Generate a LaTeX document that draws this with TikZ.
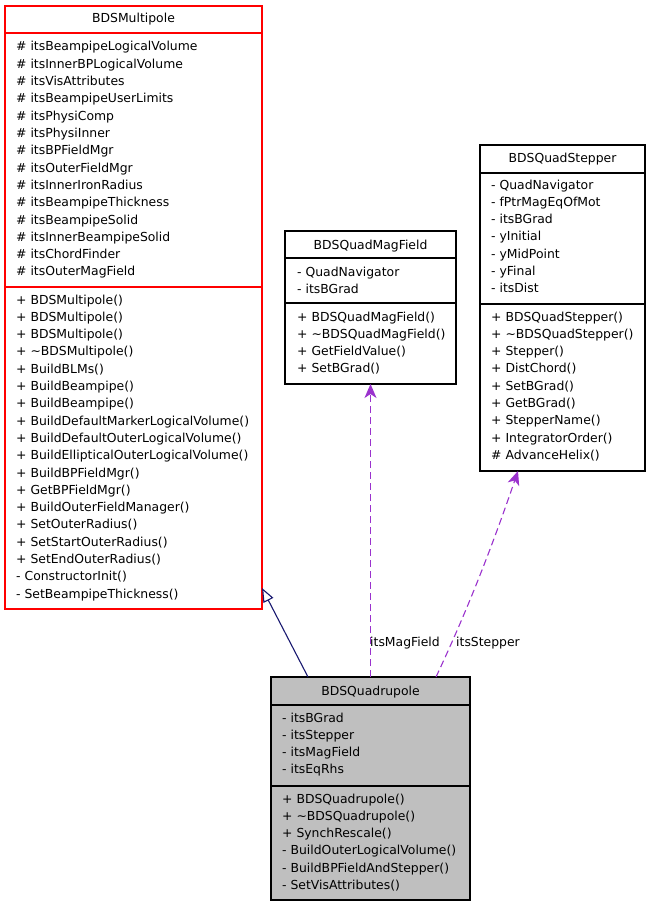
\documentclass[tikz,border=0pt]{standalone}
\usepackage{fontspec}
\setmainfont{DejaVu Sans}
\usetikzlibrary{arrows.meta,calc}
\definecolor{edgeinh}{HTML}{191970}
\definecolor{edgeuse}{HTML}{9A32CD}
\definecolor{boxred}{HTML}{FF0000}
\definecolor{boxgray}{HTML}{BFBFBF}
\begin{document}
\begin{tikzpicture}[x=1pt,y=-1pt, font=\fontsize{12.4}{14}\selectfont,
 cls/.style={draw=black, line width=1.2pt, inner sep=0pt, outer sep=0pt, anchor=north west},
 divline/.style={line width=1.2pt},
 txt/.style={anchor=base west, inner sep=0pt},
 ttl/.style={anchor=base, inner sep=0pt},
 inhedge/.style={draw=edgeinh, line width=1.1pt, -{Triangle[open,length=14pt,width=11pt,fill=white]}},
 useedge/.style={draw=edgeuse, line width=1.1pt, dash pattern=on 7pt off 4pt, -{Stealth[length=14pt,width=12pt,inset=4pt]}}]
\path[use as bounding box] (0,0) rectangle (651,907);

% ---------- BDSMultipole ----------
\node[cls, draw=boxred, minimum width=257pt, minimum height=603pt] (mp) at (5,6) {};
\draw[divline, boxred] (mp.west |- 0,33) -- (mp.east |- 0,33);
\draw[divline, boxred] (mp.west |- 0,287) -- (mp.east |- 0,287);
\node[ttl] (mpT) at (133.5,23) {BDSMultipole};
\foreach \t [count=\i from 0] in {\# itsBeampipeLogicalVolume,\# itsInnerBPLogicalVolume,\# itsVisAttributes,\# itsBeampipeUserLimits,\# itsPhysiComp,\# itsPhysiInner,\# itsBPFieldMgr,\# itsOuterFieldMgr,\# itsInnerIronRadius,\# itsBeampipeThickness,\# itsBeampipeSolid,\# itsInnerBeampipeSolid,\# itsChordFinder,\# itsOuterMagField}
  \node[txt] (mpa\i) at (16,51+17.3*\i) {\t};
\foreach \t [count=\i from 0] in {+ BDSMultipole(),+ BDSMultipole(),+ BDSMultipole(),+ \textasciitilde BDSMultipole(),+ BuildBLMs(),+ BuildBeampipe(),+ BuildBeampipe(),+ BuildDefaultMarkerLogicalVolume(),+ BuildDefaultOuterLogicalVolume(),+ BuildEllipticalOuterLogicalVolume(),+ BuildBPFieldMgr(),+ GetBPFieldMgr(),+ BuildOuterFieldManager(),+ SetOuterRadius(),+ SetStartOuterRadius(),+ SetEndOuterRadius(),- ConstructorInit(),- SetBeampipeThickness()}
  \node[txt] (mpm\i) at (16,304+17.3*\i) {\t};

% ---------- BDSQuadMagField ----------
\node[cls, minimum width=171pt, minimum height=153pt] (mf) at (285,231) {};
\draw[divline] (mf.west |- 0,258) -- (mf.east |- 0,258);
\draw[divline] (mf.west |- 0,303) -- (mf.east |- 0,303);
\node[ttl] (mfT) at (370.5,249) {BDSQuadMagField};
\foreach \t [count=\i from 0] in {- QuadNavigator,- itsBGrad}
  \node[txt] (mfa\i) at (297,276+17.3*\i) {\t};
\foreach \t [count=\i from 0] in {+ BDSQuadMagField(),+ \textasciitilde BDSQuadMagField(),+ GetFieldValue(),+ SetBGrad()}
  \node[txt] (mfm\i) at (297,321+17.3*\i) {\t};

% ---------- BDSQuadStepper ----------
\node[cls, minimum width=165pt, minimum height=326pt] (st) at (480,145) {};
\draw[divline] (st.west |- 0,173) -- (st.east |- 0,173);
\draw[divline] (st.west |- 0,304) -- (st.east |- 0,304);
\node[ttl] (stT) at (562.5,162) {BDSQuadStepper};
\foreach \t [count=\i from 0] in {- QuadNavigator,- fPtrMagEqOfMot,- itsBGrad,- yInitial,- yMidPoint,- yFinal,- itsDist}
  \node[txt] (sta\i) at (491,189+17.3*\i) {\t};
\foreach \t [count=\i from 0] in {+ BDSQuadStepper(),+ \textasciitilde BDSQuadStepper(),+ Stepper(),+ DistChord(),+ SetBGrad(),+ GetBGrad(),+ StepperName(),+ IntegratorOrder(),\# AdvanceHelix()}
  \node[txt] (stm\i) at (491,321+17.3*\i) {\t};

% ---------- BDSQuadrupole ----------
\node[cls, fill=boxgray, minimum width=199pt, minimum height=223pt] (qd) at (271,677) {};
\draw[divline] (qd.west |- 0,705) -- (qd.east |- 0,705);
\draw[divline] (qd.west |- 0,786) -- (qd.east |- 0,786);
\node[ttl] (qdT) at (370.5,695) {BDSQuadrupole};
\foreach \t [count=\i from 0] in {- itsBGrad,- itsStepper,- itsMagField,- itsEqRhs}
  \node[txt] (qda\i) at (282,722+17.3*\i) {\t};
\foreach \t [count=\i from 0] in {+ BDSQuadrupole(),+ \textasciitilde BDSQuadrupole(),+ SynchRescale(),- BuildOuterLogicalVolume(),- BuildBPFieldAndStepper(),- SetVisAttributes()}
  \node[txt] (qdm\i) at (282,803+17.3*\i) {\t};

% ---------- connectors ----------
\draw[inhedge] ($(qd.north west)+(37,0)$) -- (mp.east |- 0,588);
\draw[useedge] (qd.north) -- (mf.south);
\draw[useedge] ($(qd.north west)+(165,0)$) .. controls (469,607) and (494,541) .. ($(st.south west)+(38,0)$);
\node[txt] (lblMF) at (370,646) {itsMagField};
\node[txt] (lblST) at (456,646) {itsStepper};
\end{tikzpicture}
\end{document}
